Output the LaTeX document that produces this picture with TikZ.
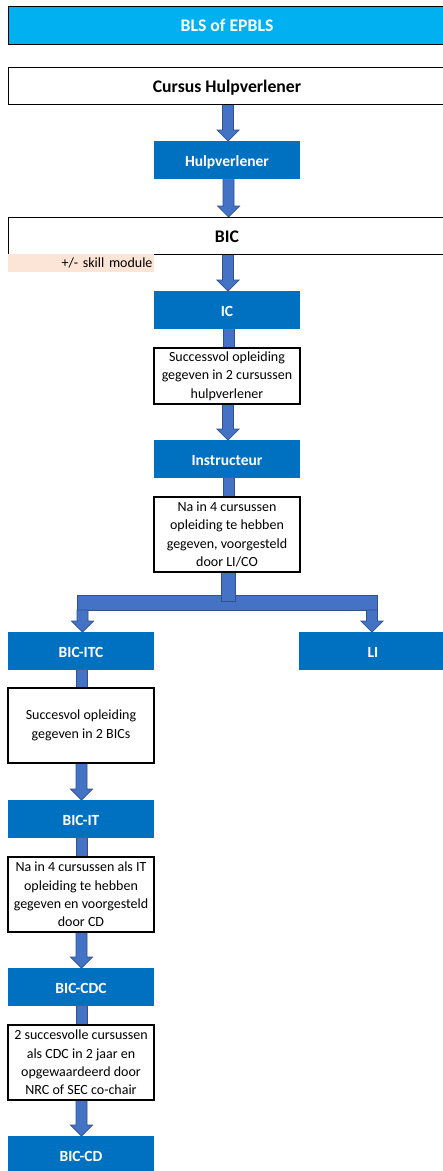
\documentclass[tikz,border=0pt]{standalone}
\usepackage{fontspec}
\setmainfont{Carlito}
\usetikzlibrary{calc,backgrounds}
\definecolor{titleblue}{HTML}{00B0F0}
\definecolor{boxblue}{HTML}{0070C0}
\definecolor{arrowfill}{HTML}{4472C4}
\definecolor{arrowline}{HTML}{2F528F}
\definecolor{peach}{HTML}{FCE4D6}
\newcommand\blockarrow[2]{%
  \path[arrowstyle] let \p1=(#1), \p2=(#2) in
    (\x1-5.5pt,\y1) -- (\x1+5.5pt,\y1) -- (\x1+5.5pt,\y2+11pt) -- (\x1+11pt,\y2+11pt)
    -- (\x1,\y2) -- (\x1-11pt,\y2+11pt) -- (\x1-5.5pt,\y2+11pt) -- cycle;}
\newcommand\blockshaft[3]{%
  \path[arrowstyle] let \p1=(#1), \p2=(#2) in
    (\x1-#3,\y1) rectangle (\x1+#3,\y2);}
\begin{document}
\begin{tikzpicture}[x=1pt,y=-1pt,
  every node/.style={inner sep=0pt, outer sep=0pt, anchor=north west},
  arrowstyle/.style={fill=arrowfill, draw=arrowline, line width=0.7pt},
  titlebox/.style={draw=black, line width=1pt, fill=titleblue, text=white,
    font=\fontsize{17.7}{21}\selectfont\bfseries, minimum width=438pt, minimum height=38pt,
    text height=12pt, text depth=0pt},
  widebox/.style={draw=black, line width=1pt, fill=white, text=black,
    font=\fontsize{17.7}{21}\selectfont\bfseries, minimum width=438pt, minimum height=37pt,
    text height=13pt, text depth=0pt},
  bluebox/.style={fill=boxblue, text=white,
    font=\fontsize{15.5}{19}\selectfont\bfseries, minimum width=146pt, minimum height=37.5pt,
    text height=13pt, text depth=0pt},
  textbox/.style={draw=black, line width=1.1pt, fill=white, text=black, align=center,
    font=\fontsize{14}{18.4}\selectfont, minimum width=146pt},
  skillbox/.style={fill=peach, text=black, font=\fontsize{14}{16}\selectfont,
    minimum width=146pt, minimum height=18pt, text width=143pt, align=right}
]
\useasboundingbox (0,0) rectangle (443,1171);

\node[titlebox] (title) at (8,6) {BLS of EPBLS};
\node[widebox] (cursus) at (8,67) {Cursus Hulpverlener};
\node[bluebox] (hulp) at (154,141) {Hulpverlener};
\node[widebox] (bic) at (8,217) {BIC};
\node[skillbox] (skill) at (8,254) {+/- skill module};
\node[bluebox] (ic) at (154,291) {IC};
\node[textbox, minimum height=56pt] (t1) at (154,348)
  {Successvol opleiding\\gegeven in 2 cursussen\\hulpverlener};
\node[bluebox] (instr) at (154,440) {Instructeur};
\node[textbox, minimum height=75pt] (t2) at (154,497)
  {Na in 4 cursussen\\opleiding te hebben\\gegeven, voorgesteld\\door LI/CO};
\node[bluebox] (itc) at (8,632) {BIC-ITC};
\node[bluebox, minimum width=148pt] (li) at (299,632) {LI};
\node[textbox, minimum height=75pt] (t3) at (8,688)
  {Succesvol opleiding\\gegeven in 2 BICs};
\node[bluebox] (it) at (8,800) {BIC-IT};
\node[textbox, minimum height=75pt] (t4) at (8,857)
  {Na in 4 cursussen als IT\\opleiding te hebben\\gegeven en voorgesteld\\door CD};
\node[bluebox] (cdc) at (8,968) {BIC-CDC};
\node[textbox, minimum height=75pt] (t5) at (8,1025)
  {2 succesvolle cursussen\\als CDC in 2 jaar en\\opgewaardeerd door\\NRC of SEC co-chair};
\node[bluebox] (cd) at (8,1136) {BIC-CD};

\coordinate (barL) at (77,595);
\coordinate (barR) at (377,610);
\coordinate (splitC) at (228,601);
\coordinate (dropL) at (82.5,610);
\coordinate (dropR) at (372,610);

\begin{pgfonlayer}{background}
  \blockarrow{[xshift=1pt]cursus.south}{hulp.north}
  \blockarrow{[xshift=1.5pt]hulp.south}{bic.north}
  \blockarrow{[xshift=1pt]bic.south}{ic.north}
  \blockshaft{[xshift=1.5pt]ic.south}{t1.north}{5.5pt}
  \blockarrow{[xshift=1pt]t1.south}{instr.north}
  \blockshaft{[xshift=1.5pt]instr.south}{t2.north}{5.5pt}
  \path[arrowstyle] (barL) rectangle (barR);
  \blockshaft{[xshift=1pt]t2.south}{splitC}{7pt}
  \blockarrow{dropL}{itc.north}
  \blockarrow{dropR}{li.north}
  \blockshaft{[xshift=0.5pt]itc.south}{t3.north}{5.5pt}
  \blockarrow{[xshift=0.5pt]t3.south}{it.north}
  \blockshaft{[xshift=0.5pt]it.south}{t4.north}{5.5pt}
  \blockarrow{[xshift=0.5pt]t4.south}{cdc.north}
  \blockshaft{[xshift=0.5pt]cdc.south}{t5.north}{5.5pt}
  \blockarrow{[xshift=0.5pt]t5.south}{cd.north}
\end{pgfonlayer}
\end{tikzpicture}
\end{document}
